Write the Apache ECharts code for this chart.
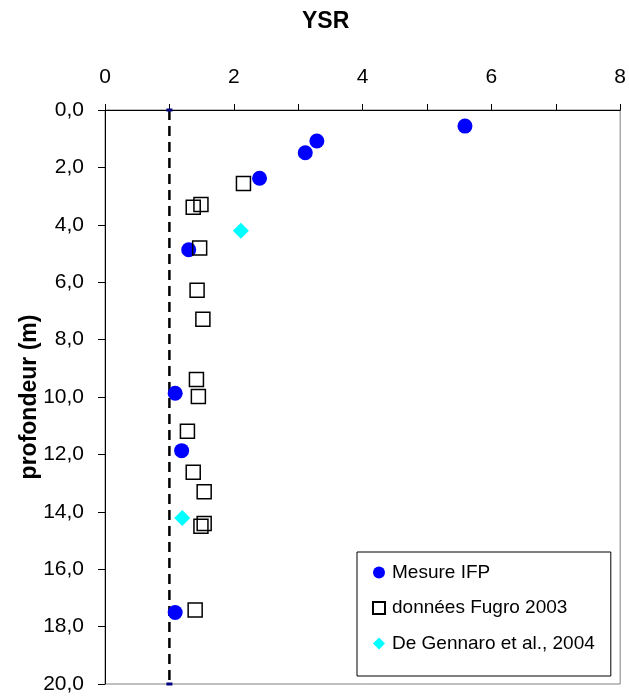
<!DOCTYPE html>
<html>
<head>
<meta charset="utf-8">
<script src="https://cdn.jsdelivr.net/npm/echarts@6/dist/echarts.min.js"></script>
<style>
html,body{margin:0;padding:0;background:#fff;}
#chart{width:629px;height:698px;}
</style>
</head>
<body>
<div id="chart"></div>
<script>
// Data: [YSR, depth (m)]
const mesureIFP = [[5.59,0.56],[3.29,1.08],[3.11,1.49],[2.40,2.38],[1.30,4.87],[1.09,9.87],[1.19,11.87],[1.09,17.51]];
const fugro2003 = [[2.15,2.56],[1.49,3.29],[1.37,3.39],[1.47,4.81],[1.43,6.28],[1.52,7.29],[1.42,9.39],[1.45,9.98],[1.28,11.19],[1.37,12.62],[1.54,13.30],[1.54,14.41],[1.49,14.50],[1.40,17.42]];
const deGennaro = [[2.11,4.21],[1.20,14.22]];
const refLine = [[1,0],[1,20]];
const seriesNames = ['Mesure IFP','données Fugro 2003','De Gennaro et al., 2004'];
const xTitle = 'YSR';
const yTitle = 'profondeur (m)';

const FONT = 'Liberation Sans, Arial, sans-serif';
const chart = echarts.init(document.getElementById('chart'));
chart.setOption({
  animation:false,
  backgroundColor:'#fff',
  textStyle:{fontFamily:FONT},
  title:{text:xTitle,left:297,top:5,textStyle:{fontFamily:FONT,fontSize:23,fontWeight:'bold',color:'#000'}},
  grid:{left:105,top:110,right:7,bottom:14,show:true,borderColor:'#808080',borderWidth:1,backgroundColor:'transparent'},
  legend:{
    data:seriesNames,
    orient:'vertical',left:357,top:552,
    padding:[11,16,23,15],
    itemGap:16.5,itemWidth:12,itemHeight:12,
    borderColor:'#000',borderWidth:1,backgroundColor:'#fff',
    textStyle:{fontFamily:FONT,fontSize:19,color:'#000',padding:[0,0,0,2]}
  },
  xAxis:{
    type:'value',position:'top',min:0,max:8,interval:1,
    axisLine:{show:true,lineStyle:{color:'#000',width:1}},
    axisTick:{show:true,length:6,lineStyle:{color:'#000'}},
    axisLabel:{margin:22,fontSize:21,color:'#000',fontFamily:FONT,formatter:v=> (v%2===0? String(v):'')},
    splitLine:{show:false}
  },
  yAxis:{
    type:'value',inverse:true,min:0,max:20,interval:2,
    name:yTitle,nameLocation:'middle',nameGap:64,nameRotate:90,nameMoveOverlap:false,
    nameTextStyle:{fontSize:23,fontWeight:'bold',color:'#000',fontFamily:FONT},
    axisLine:{show:true,lineStyle:{color:'#000',width:1}},
    axisTick:{show:true,length:7,lineStyle:{color:'#000'}},
    axisLabel:{margin:21,fontSize:21,color:'#000',fontFamily:FONT,formatter:v=>v.toFixed(1).replace('.',',')},
    splitLine:{show:false}
  },
  series:[
    {type:'line',data:refLine,symbol:'rect',symbolSize:[6,3],showSymbol:true,
     itemStyle:{color:'#000080'},lineStyle:{color:'#000',width:2.5,type:[10,6]},z:1,silent:true},
    {name:seriesNames[0],type:'scatter',data:mesureIFP,symbol:'circle',symbolSize:15,
     itemStyle:{color:'#0000FF',opacity:1},z:2},
    {name:seriesNames[1],type:'scatter',data:fugro2003,symbol:'rect',symbolSize:14,
     itemStyle:{color:'rgba(0,0,0,0)',borderColor:'#000',borderWidth:1.5,opacity:1},z:3},
    {name:seriesNames[2],type:'scatter',data:deGennaro,symbol:'diamond',symbolSize:16,
     itemStyle:{color:'#00FFFF',opacity:1},z:4}
  ]
});
</script>
</body>
</html>
